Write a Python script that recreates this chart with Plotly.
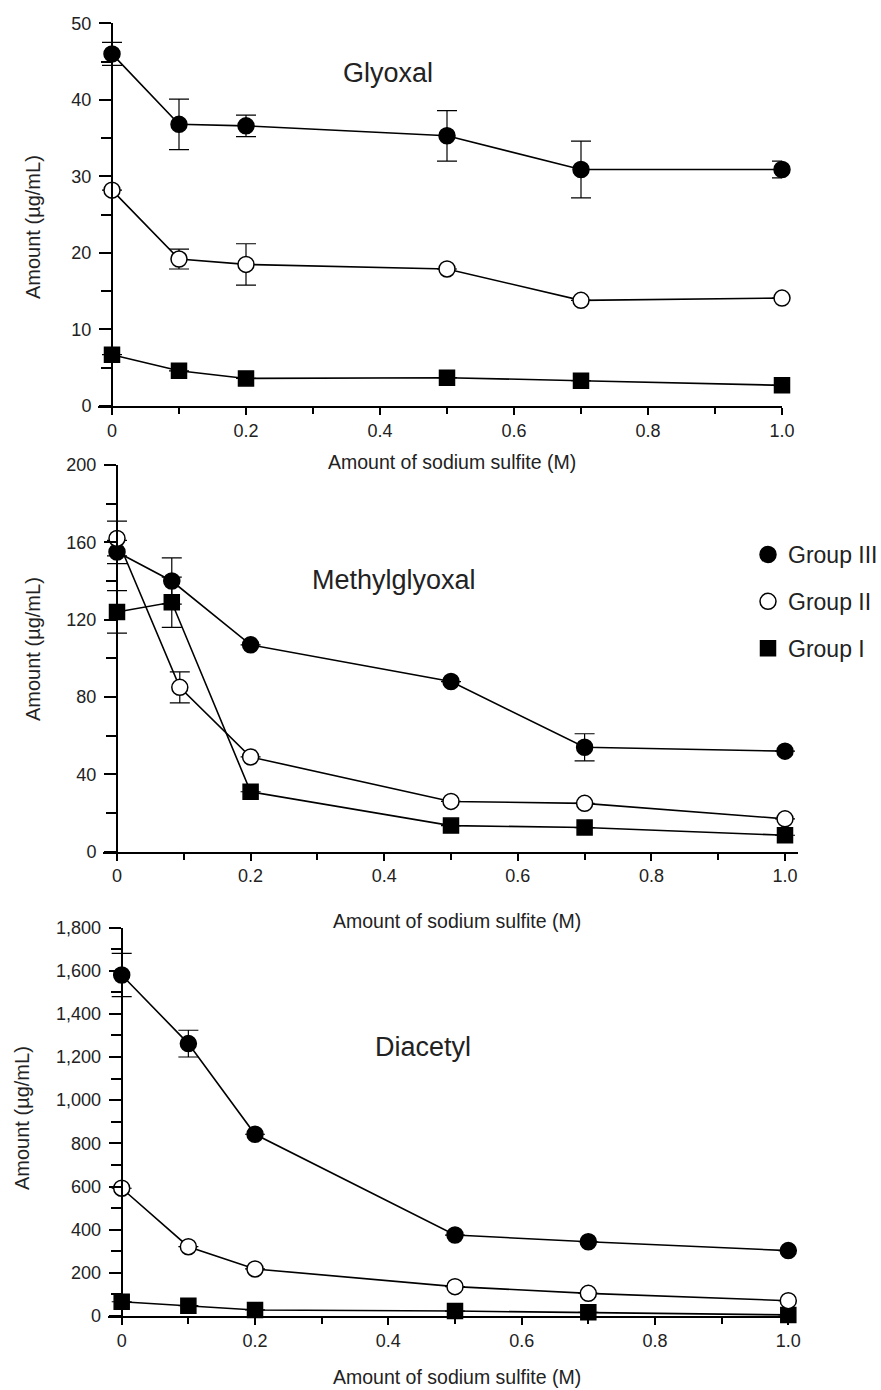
import plotly.graph_objects as go

W, H = 881, 1390

# ---------------- data ----------------
groups = ["Group III", "Group II", "Group I"]
x_ticks = [0, 0.2, 0.4, 0.6, 0.8, 1.0]
x_ticktext = ["0", "0.2", "0.4", "0.6", "0.8", "1.0"]

# Glyoxal
gly_x = [0, 0.1, 0.2, 0.5, 0.7, 1.0]
gly_III = [46.0, 36.8, 36.6, 35.3, 30.9, 30.9]
gly_III_err = [1.5, 3.3, 1.4, 3.3, 3.7, 1.1]
gly_II = [28.2, 19.2, 18.5, 17.9, 13.8, 14.1]
gly_II_err = [0, 1.3, 2.7, 0, 0, 0]
gly_I = [6.7, 4.6, 3.6, 3.7, 3.3, 2.7]
gly_I_err = [0, 0, 0, 0, 0, 0]

# Methylglyoxal
mgo_x_III = [0, 0.082, 0.2, 0.5, 0.7, 1.0]
mgo_III = [155, 140, 107, 88, 54, 52]
mgo_III_err = [6, 12, 0, 0, 7, 0]
mgo_x_II = [0, 0.094, 0.2, 0.5, 0.7, 1.0]
mgo_II = [162, 85, 49, 26, 25, 17]
mgo_II_err = [9, 8, 0, 0, 0, 0]
mgo_x_I = [0, 0.082, 0.2, 0.5, 0.7, 1.0]
mgo_I = [124, 129, 31, 13.5, 12.5, 8.5]
mgo_I_err = [11, 13, 0, 0, 0, 0]

# Diacetyl
dia_x = [0, 0.1, 0.2, 0.5, 0.7, 1.0]
dia_III = [1580, 1262, 842, 375, 344, 303]
dia_III_err = [100, 62, 0, 0, 0, 0]
dia_II = [592, 321, 218, 136, 105, 71]
dia_II_err = [0, 0, 0, 0, 0, 0]
dia_I = [66, 48, 28, 23, 17, 5]
dia_I_err = [0, 0, 0, 0, 0, 0]

FONT = "Liberation Sans, Arial, sans-serif"

def px_x(p):
    return p / W

def px_y(p):
    return 1 - p / H

marker_styles = {
    "Group III": dict(symbol="circle", size=16, color="black", line=dict(color="black", width=1.5)),
    "Group II": dict(symbol="circle", size=16, color="white", line=dict(color="black", width=1.5)),
    "Group I": dict(symbol="square", size=15, color="black", line=dict(color="black", width=1.5)),
}

fig = go.Figure()

def add_series(x, y, err, name, xa, ya):
    fig.add_trace(go.Scatter(
        x=x, y=y, mode="lines+markers", name=name, showlegend=False,
        xaxis=xa, yaxis=ya,
        line=dict(color="black", width=1.6),
        marker=marker_styles[name],
        error_y=dict(type="data", array=err, visible=True, color="black",
                     thickness=1.2, width=10),
        cliponaxis=False,
    ))

add_series(gly_x, gly_I, gly_I_err, "Group I", "x", "y")
add_series(gly_x, gly_II, gly_II_err, "Group II", "x", "y")
add_series(gly_x, gly_III, gly_III_err, "Group III", "x", "y")

add_series(mgo_x_I, mgo_I, mgo_I_err, "Group I", "x2", "y2")
add_series(mgo_x_III, mgo_III, mgo_III_err, "Group III", "x2", "y2")
add_series(mgo_x_II, mgo_II, mgo_II_err, "Group II", "x2", "y2")

add_series(dia_x, dia_I, dia_I_err, "Group I", "x3", "y3")
add_series(dia_x, dia_II, dia_II_err, "Group II", "x3", "y3")
add_series(dia_x, dia_III, dia_III_err, "Group III", "x3", "y3")

# legend-only entries (markers only)
for g in groups:
    fig.add_trace(go.Scatter(
        x=[None], y=[None], mode="markers", name=g, showlegend=True,
        legendgroup=g, xaxis="x2", yaxis="y2", marker=marker_styles[g],
    ))

tickfont = dict(family=FONT, size=18, color="#222")

def xaxis_cfg(dom_px, rng):
    return dict(
        domain=[px_x(dom_px[0]), px_x(dom_px[1])], range=rng, automargin=False,
        showline=True, linecolor="black", linewidth=2,
        showgrid=False, zeroline=False,
        tickmode="array", tickvals=x_ticks, ticktext=x_ticktext,
        ticks="outside", ticklen=7, tickwidth=1.5, tickcolor="black",
        minor=dict(tickmode="array", tickvals=[0.1, 0.3, 0.5, 0.7, 0.9],
                   ticks="outside", ticklen=6, tickwidth=1.5, tickcolor="black"),
        tickfont=tickfont, fixedrange=True,
    )

def yaxis_cfg(dom_px, rng, pos_px, dtick, minor_dtick, fmt=None):
    d = dict(
        domain=[px_y(dom_px[1]), px_y(dom_px[0])], range=rng, automargin=False,
        anchor="free", position=px_x(pos_px),
        showline=True, linecolor="black", linewidth=2,
        showgrid=False, zeroline=False,
        tick0=0, dtick=dtick,
        ticks="outside", ticklen=12, tickwidth=1.5, tickcolor="black",
        minor=dict(tick0=0, dtick=minor_dtick, ticks="outside", ticklen=10,
                   tickwidth=1.5, tickcolor="black"),
        tickfont=tickfont, ticklabelstandoff=4, fixedrange=True,
    )
    if fmt:
        d["tickformat"] = fmt
    return d

layout = dict(
    width=W, height=H,
    margin=dict(l=0, r=0, t=0, b=0, pad=0, autoexpand=False),
    paper_bgcolor="white", plot_bgcolor="white",
    font=dict(family=FONT, color="#222"),
    xaxis=xaxis_cfg((98, 782), [-14 / 670, 1.0]),
    yaxis=yaxis_cfg((23.3, 406), [0, 50], 112, 10, 5),
    xaxis2=xaxis_cfg((103, 798), [-14 / 668, 1 + 13 / 668]),
    yaxis2=yaxis_cfg((465, 851.7), [0, 200], 117, 40, 20),
    xaxis3=xaxis_cfg((108, 790), [-13.7 / 666.6, 1 + 1.7 / 666.6]),
    yaxis3=yaxis_cfg((927.5, 1316), [0, 1800], 121.7, 200, 100, fmt=",d"),
    showlegend=True,
    legend=dict(
        x=px_x(748), y=px_y(533), xanchor="left", yanchor="top",
        font=dict(family=FONT, size=23, color="#222"),
        bgcolor="rgba(0,0,0,0)", borderwidth=0,
        tracegroupgap=14, itemsizing="trace",
    ),
)
fig.update_layout(**layout)
fig.layout.xaxis.anchor = "y"
fig.layout.xaxis2.anchor = "y2"
fig.layout.xaxis3.anchor = "y3"

def ann(text, xp, yp, size, angle=0):
    fig.add_annotation(
        text=text, x=px_x(xp), y=px_y(yp), xref="paper", yref="paper",
        xanchor="center", yanchor="middle", showarrow=False, textangle=angle,
        font=dict(family=FONT, size=size, color="#222"),
    )

ann("Glyoxal", 388, 73, 27)
ann("Methylglyoxal", 394, 580, 27)
ann("Diacetyl", 423, 1047, 27)

xt = "Amount of sodium sulfite (M)"
ann(xt, 452, 462, 19.5)
ann(xt, 457, 921, 19.5)
ann(xt, 457, 1377, 19.5)

yt = "Amount (µg/mL)"
ann(yt, 33, 227, 20, -90)
ann(yt, 33, 649, 20, -90)
ann(yt, 22, 1118, 20, -90)

fig.write_html("out.html")
